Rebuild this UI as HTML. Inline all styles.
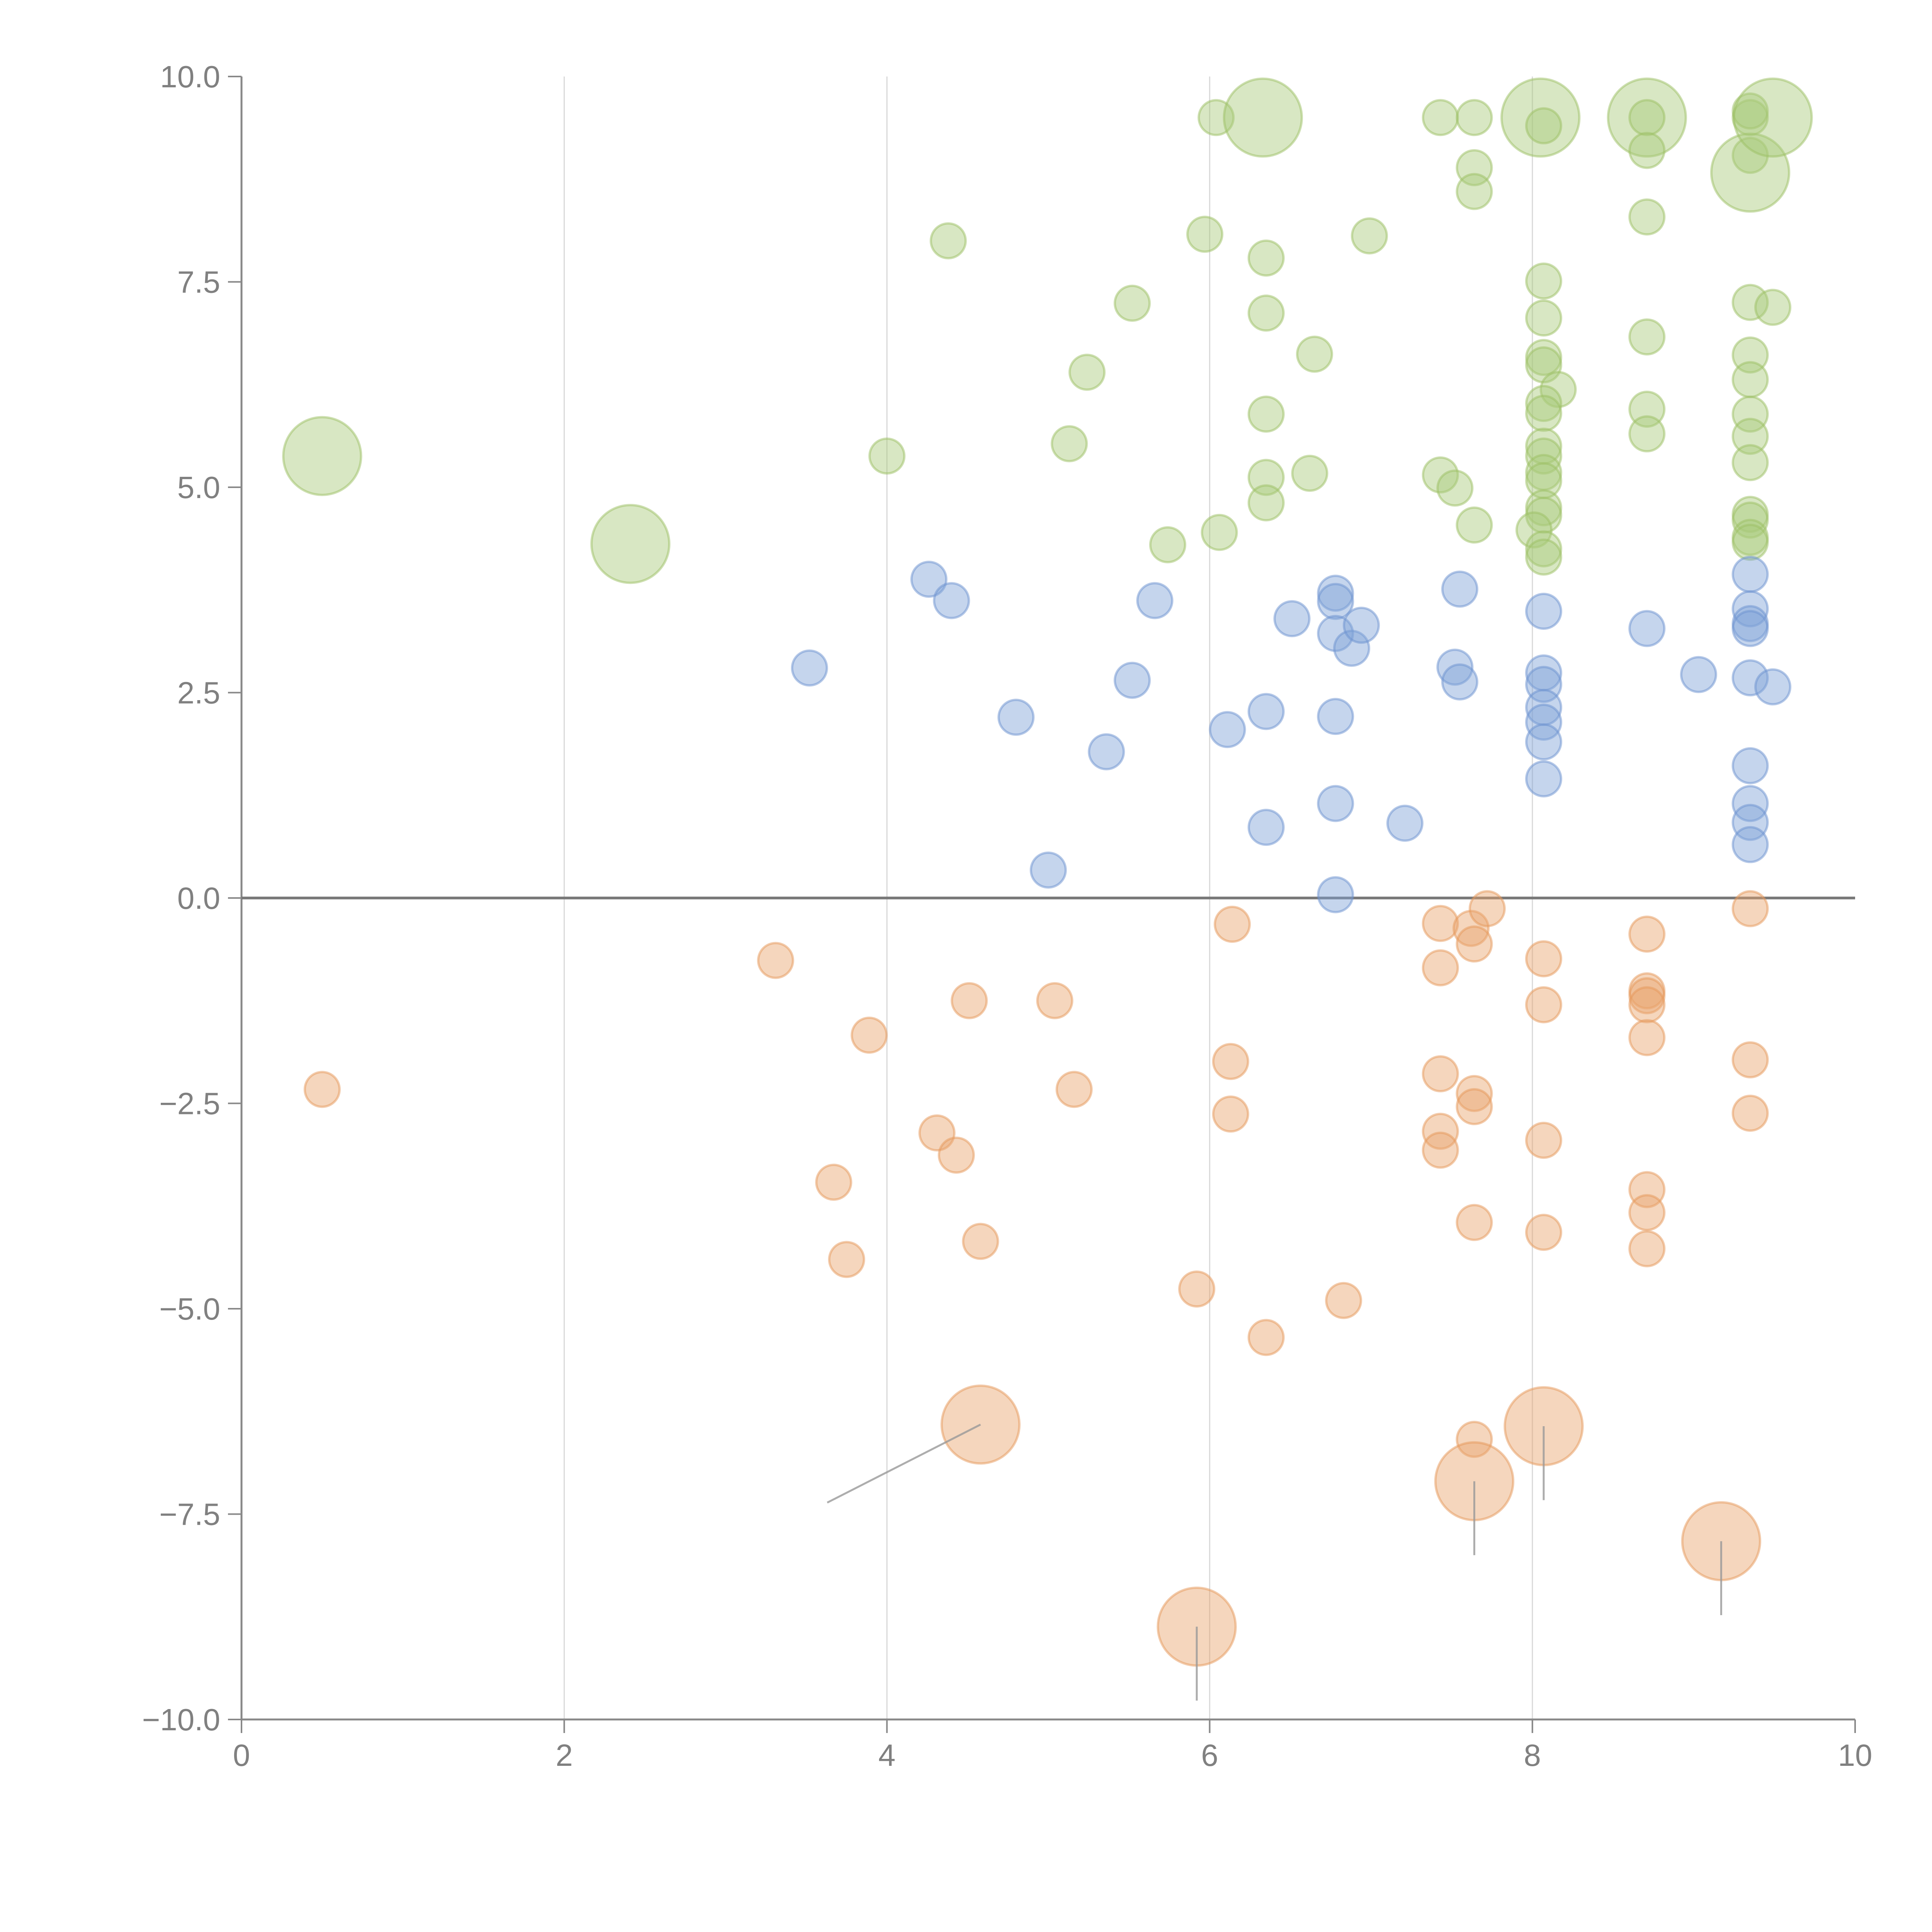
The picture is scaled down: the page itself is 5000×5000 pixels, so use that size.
<!DOCTYPE html>
<html><head><meta charset="utf-8"><style>html,body{margin:0;padding:0;background:#fff}svg{display:block}</style></head>
<body>
<svg id="chart" width="5000" height="5000" viewBox="0 0 5000 5000" xmlns="http://www.w3.org/2000/svg" font-family="Liberation Sans, sans-serif">
<g id="grid"></g>
<g id="axes"></g>
<g id="marks"></g>
</svg>
<script>
const greenX=[0.50,2.41,4.00,4.38,5.13,5.24,5.52,5.74,5.97,6.04,6.06,6.33,6.35,6.35,6.35,6.35,6.35,6.62,6.65,6.99,7.43,7.43,7.52,7.64,7.64,7.64,7.64,8.05,8.07,8.07,8.07,8.07,8.07,8.16,8.07,8.07,8.07,8.07,8.07,8.07,8.07,8.07,8.01,8.07,8.07,8.71,8.71,8.71,8.71,8.71,8.71,8.71,9.35,9.35,9.35,9.35,9.35,9.49,9.35,9.35,9.35,9.35,9.35,9.35,9.35,9.35,9.35,9.49];
const greenY=[5.38,4.31,5.38,8.00,5.53,6.40,7.24,4.30,8.08,9.50,4.45,9.50,7.79,7.12,5.89,5.12,4.81,5.17,6.62,8.06,9.50,5.15,4.99,9.50,8.89,8.60,4.54,9.50,9.40,7.51,7.06,6.58,6.49,6.19,6.02,5.90,5.50,5.38,5.18,5.08,4.75,4.66,4.48,4.25,4.15,9.50,9.50,9.10,8.29,6.83,5.95,5.65,9.50,9.58,9.04,8.83,7.25,7.19,6.61,6.31,5.89,5.62,5.30,4.67,4.60,4.39,4.33,9.50];
const greenS=[5,5,1,1,1,1,1,1,1,1,1,5,1,1,1,1,1,1,1,1,1,1,1,1,1,1,1,5,1,1,1,1,1,1,1,1,1,1,1,1,1,1,1,1,1,5,1,1,1,1,1,1,1,1,1,5,1,1,1,1,1,1,1,1,1,1,1,5];
const blueX=[3.52,4.26,4.40,4.80,5.00,5.36,5.52,5.66,6.11,6.35,6.35,6.51,6.78,6.78,6.78,6.78,6.78,6.78,6.88,6.94,7.21,7.52,7.55,7.55,8.07,8.07,8.07,8.07,8.07,8.07,8.07,8.71,9.03,9.35,9.35,9.35,9.35,9.35,9.49,9.35,9.35,9.35,9.35];
const blueY=[2.80,3.88,3.62,2.20,0.34,1.78,2.65,3.62,2.05,2.27,0.86,3.40,3.71,3.61,3.22,2.21,1.15,0.04,3.04,3.32,0.91,2.81,2.63,3.76,3.49,2.74,2.60,2.32,2.14,1.90,1.45,3.28,2.72,3.94,3.52,3.34,3.28,2.68,2.57,1.61,1.15,0.92,0.65];
const orangeX=[0.50,3.31,3.67,3.75,3.89,4.31,4.43,4.51,4.58,4.58,5.04,5.16,5.92,5.92,6.14,6.13,6.13,6.35,6.83,7.43,7.43,7.43,7.43,7.43,7.62,7.64,7.64,7.64,7.64,7.64,7.64,7.72,8.07,8.07,8.07,8.07,8.07,8.71,8.71,8.71,8.71,8.71,8.71,8.71,8.71,9.17,9.35,9.35,9.35];
const orangeY=[-2.33,-0.76,-3.46,-4.40,-1.67,-2.86,-3.13,-1.25,-4.18,-6.41,-1.25,-2.33,-4.76,-8.87,-0.32,-1.99,-2.63,-5.35,-4.90,-0.31,-0.85,-2.14,-2.84,-3.07,-0.37,-0.56,-2.38,-2.54,-3.95,-6.59,-7.10,-0.13,-0.74,-1.30,-2.95,-4.07,-6.43,-0.44,-1.13,-1.19,-1.30,-1.70,-3.55,-3.83,-4.27,-7.83,-0.13,-1.97,-2.62];
const orangeS=[1,1,1,1,1,1,1,1,1,5,1,1,1,5,1,1,1,1,1,1,1,1,1,1,1,1,1,1,1,1,5,1,1,1,1,1,5,1,1,1,1,1,1,1,1,5,1,1,1];
const xTicks=[0,2,4,6,8,10];
const yTicks=[-10,-7.5,-5,-2.5,0,2.5,5,7.5,10];

const NS="http://www.w3.org/2000/svg";
const X0=625,X1=4801,Y0=4450,Y1=198;
function sx(v){return X0+(v-0)/(10-0)*(X1-X0);}
function sy(v){return Y0-(v+10)/20*(Y0-Y1);}
function mk(parent,tag,attrs){const e=document.createElementNS(NS,tag);for(const k in attrs)e.setAttribute(k,attrs[k]);parent.appendChild(e);return e;}
const grid=document.getElementById('grid'),axes=document.getElementById('axes'),marks=document.getElementById('marks');
xTicks.forEach(t=>{
  if(t>0&&t<10){const g=mk(grid,'line',{x1:sx(t),x2:sx(t),y1:Y1,y2:Y0,stroke:'#d8d8d8','stroke-width':3});
  
  }
  const tk=mk(axes,'line',{x1:sx(t),x2:sx(t),y1:Y0,y2:Y0+35,stroke:'#888','stroke-width':4});
  
  
  const tx=mk(axes,'text',{x:sx(t),y:Y0+120,'text-anchor':'middle','font-size':80,fill:'#808080'});
  tx.textContent=t;
  
  
});
yTicks.forEach(t=>{
  const tk=mk(axes,'line',{x1:X0-35,x2:X0,y1:sy(t),y2:sy(t),stroke:'#888','stroke-width':4});
  
  
  const tx=mk(axes,'text',{x:X0-55,y:sy(t)+28,'text-anchor':'end','font-size':80,fill:'#808080'});
  tx.textContent=(t<0?'\u2212':'')+Math.abs(t).toFixed(1);
  
  
});
let a=mk(axes,'line',{x1:X0,x2:X0,y1:Y1,y2:Y0+2,stroke:'#888','stroke-width':5});


a=mk(axes,'line',{x1:X0-2,x2:X1,y1:Y0,y2:Y0,stroke:'#888','stroke-width':5});


a=mk(axes,'line',{x1:X0,x2:X1,y1:sy(0),y2:sy(0),stroke:'#777','stroke-width':7});



function series(xs,ys,ss,fill,stroke,name){
  xs.forEach((x,i)=>{
    const s=ss?ss[i]:1;
    const c=mk(marks,'circle',{cx:sx(x),cy:sy(ys[i]),r:45*Math.sqrt(s),fill:fill,'fill-opacity':0.45,stroke:stroke,'stroke-opacity':0.5,'stroke-width':6});
    
    
  });
}
series(greenX,greenY,greenS,'#a9c97a','#9cc063','point-green');
series(blueX,blueY,null,'#7ea1d6','#6b92cf','point-blue');
series(orangeX,orangeY,orangeS,'#e9a36c','#e59859','point-orange');
// leader lines for large orange bubbles
orangeX.forEach((x,i)=>{
  if(orangeS[i]<5)return;
  let x2=x,y2=orangeY[i]-0.9;
  if(x<5){x2=x-0.95;y2=orangeY[i]-0.95;}
  const l=mk(marks,'line',{x1:sx(x),y1:sy(orangeY[i]),x2:sx(x2),y2:sy(y2),stroke:'#999','stroke-width':5,'stroke-opacity':0.8});
  
  
});
</script>
</body></html>
